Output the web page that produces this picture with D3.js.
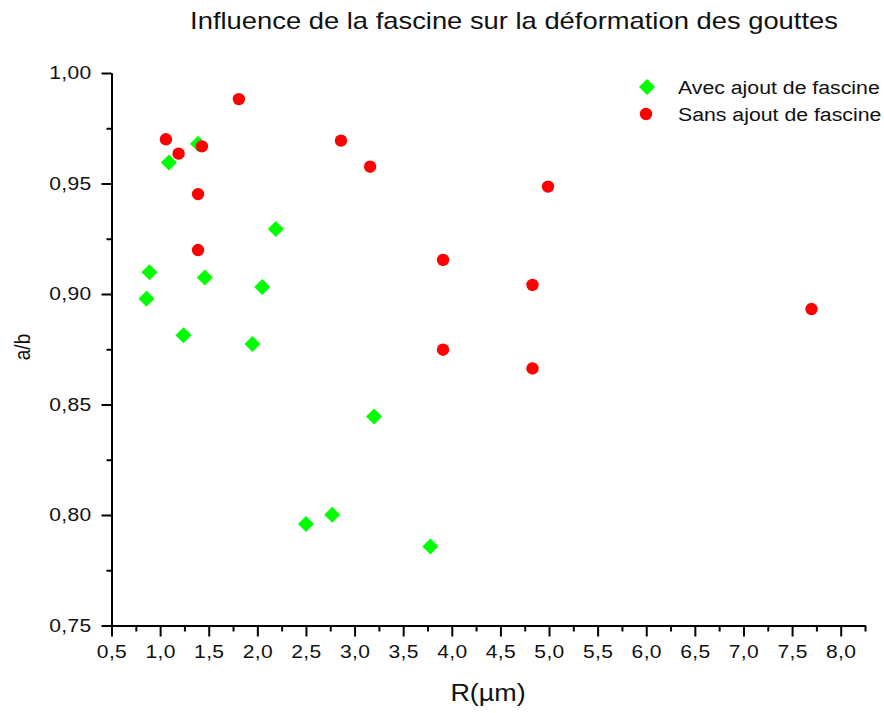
<!DOCTYPE html>
<html>
<head>
<meta charset="utf-8">
<script src="https://cdn.jsdelivr.net/npm/d3@7"></script>
<style>
  body { margin: 0; background: #fff; }
  svg { display: block; font-family: "Liberation Sans", Arial, sans-serif; }
</style>
</head>
<body>
<svg id="chart" width="884" height="713"></svg>
<script>
// Drop deformation a/b versus drop radius R (µm), with and without fascin
const withFascineR     = [1.39, 1.09, 2.19, 0.89, 1.46, 2.05, 0.86, 1.24, 1.95, 3.20, 2.77, 2.50, 3.78];
const withFascineRatio = [0.968, 0.9595, 0.9294, 0.9098, 0.9075, 0.9032, 0.8979, 0.8813, 0.8774, 0.8446, 0.8001, 0.7959, 0.7857];

const withoutFascineR     = [1.81, 1.06, 1.43, 1.19, 1.39, 1.39, 2.86, 3.16, 4.99, 3.91, 4.83, 3.91, 4.83, 7.70];
const withoutFascineRatio = [0.9882, 0.9700, 0.9668, 0.9635, 0.9452, 0.9199, 0.9694, 0.9576, 0.9486, 0.9154, 0.9041, 0.8748, 0.8663, 0.8932];

const seriesNames = ["Avec ajout de fascine", "Sans ajout de fascine"];
const seriesColors = ["#00ff00", "#ff0000"];

const xTicks = [0.5, 1.0, 1.5, 2.0, 2.5, 3.0, 3.5, 4.0, 4.5, 5.0, 5.5, 6.0, 6.5, 7.0, 7.5, 8.0];
const yTicks = [0.75, 0.80, 0.85, 0.90, 0.95, 1.00];

const titleText = "Influence de la fascine sur la déformation des gouttes";
const xTitle = "R(µm)";
const yTitle = "a/b";

const width = 884, height = 713;
const margin = { top: 73, right: 19, bottom: 87.5, left: 111.5 };
// the lettering is drawn slightly wide
const stretch = 1.17;

const svg = d3.select("#chart");

const x = d3.scaleLinear().domain([0.5, 8.25]).range([margin.left, width - margin.right]);
const y = d3.scaleLinear().domain([0.75, 1.00]).range([height - margin.bottom, margin.top]);

const frLocale = d3.formatLocale({ decimal: ",", thousands: " ", grouping: [3], currency: ["", " €"] });
const fmtX = frLocale.format(".1f");
const fmtY = frLocale.format(".2f");

// minor ticks halfway between the labelled ones
const xMinor = xTicks.map(v => v + 0.25);
const yMinor = yTicks.slice(0, -1).map(v => v + 0.025);

function styleAxis(g) {
  g.selectAll("path.domain").attr("stroke", "#000").attr("stroke-width", 2);
  g.selectAll(".tick line").attr("stroke", "#000").attr("stroke-width", 2);
}

// x axis
const xMinorG = svg.append("g")
  .attr("transform", `translate(0,${y(0.75)})`)
  .call(d3.axisBottom(x).tickValues(xMinor).tickSize(6).tickSizeOuter(0).tickFormat(""));
styleAxis(xMinorG);

const xAxisG = svg.append("g")
  .attr("transform", `translate(0,${y(0.75)})`)
  .call(d3.axisBottom(x).tickValues(xTicks).tickSize(11).tickSizeOuter(0).tickPadding(9).tickFormat(fmtX));
styleAxis(xAxisG);
xAxisG.select("path.domain").remove();
xAxisG.selectAll("text")
  .attr("fill", "#111")
  .attr("transform", `scale(${stretch},1)`)
  .style("font-size", "18px")
  .style("letter-spacing", "0.3px");

// y axis
const yMinorG = svg.append("g")
  .attr("transform", `translate(${x(0.5)},0)`)
  .call(d3.axisLeft(y).tickValues(yMinor).tickSize(5).tickSizeOuter(0).tickFormat(""));
styleAxis(yMinorG);

const yAxisG = svg.append("g")
  .attr("transform", `translate(${x(0.5)},0)`)
  .call(d3.axisLeft(y).tickValues(yTicks).tickSize(10).tickSizeOuter(0).tickPadding(10).tickFormat(fmtY));
styleAxis(yAxisG);
yAxisG.selectAll("text")
  .attr("fill", "#111")
  .attr("x", -20 / stretch)
  .attr("transform", `scale(${stretch},1)`)
  .style("font-size", "18px")
  .style("letter-spacing", "0.3px");

// titles
svg.append("text")
  .attr("transform", `translate(514,29) scale(${stretch + 0.02},1)`)
  .attr("text-anchor", "middle")
  .attr("fill", "#111")
  .style("font-size", "23px")
  .text(titleText);

svg.append("text")
  .attr("transform", `translate(488,701) scale(${stretch},1)`)
  .attr("text-anchor", "middle")
  .attr("fill", "#111")
  .style("font-size", "23px")
  .text(xTitle);

svg.append("text")
  .attr("transform", `translate(30,347) rotate(-90) scale(1,${stretch})`)
  .attr("text-anchor", "middle")
  .attr("fill", "#111")
  .style("font-size", "19px")
  .text(yTitle);

// data marks
const diamond = d3.symbol().type(d3.symbolSquare).size(128);

const withData = withFascineR.map((r, i) => ({ r, v: withFascineRatio[i] }));
const withoutData = withoutFascineR.map((r, i) => ({ r, v: withoutFascineRatio[i] }));

svg.append("g").selectAll("path")
  .data(withData)
  .join("path")
  .attr("d", diamond)
  .attr("transform", d => `translate(${x(d.r)},${y(d.v)}) rotate(45)`)
  .attr("fill", seriesColors[0]);

svg.append("g").selectAll("circle")
  .data(withoutData)
  .join("circle")
  .attr("cx", d => x(d.r))
  .attr("cy", d => y(d.v))
  .attr("r", 6.2)
  .attr("fill", seriesColors[1]);

// legend
const legend = svg.append("g").attr("transform", "translate(647,87)");
legend.append("path")
  .attr("d", diamond)
  .attr("transform", "rotate(45)")
  .attr("fill", seriesColors[0]);
legend.append("circle")
  .attr("cx", -1).attr("cy", 27).attr("r", 6.2)
  .attr("fill", seriesColors[1]);
legend.selectAll("text.item")
  .data(seriesNames)
  .join("text")
  .attr("class", "item")
  .attr("transform", (d, i) => `translate(31,${i * 27}) scale(1.12,1)`)
  .attr("dy", "0.36em")
  .attr("fill", "#111")
  .style("font-size", "19px")
  .text(d => d);
</script>
</body>
</html>
